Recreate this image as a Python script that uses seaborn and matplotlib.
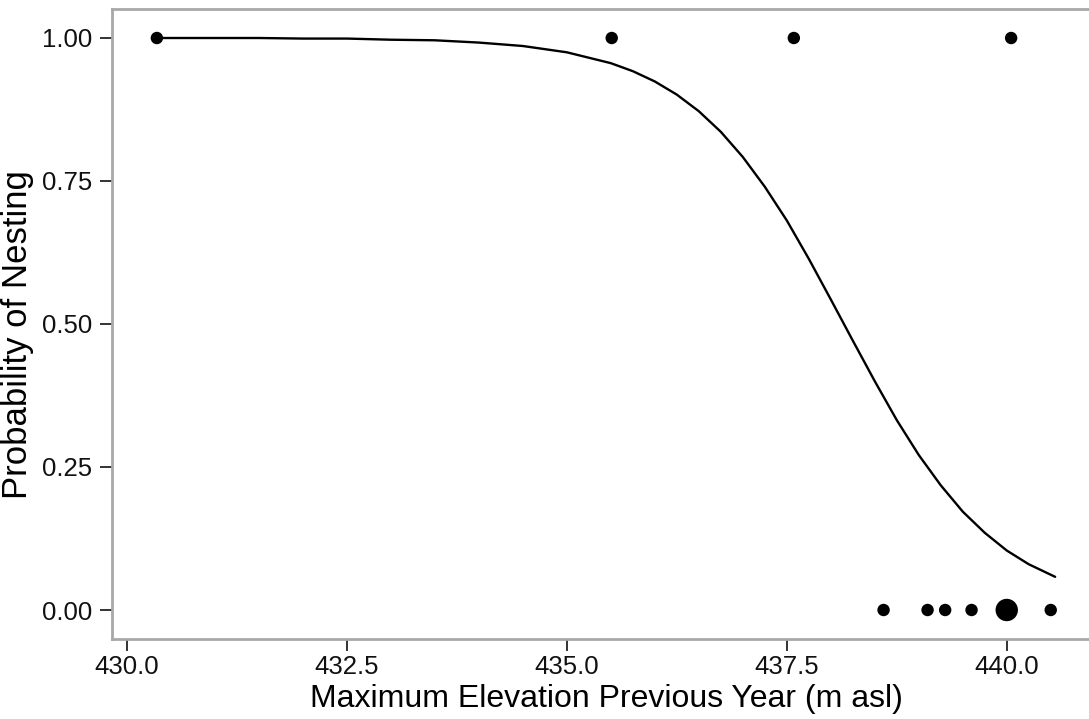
import matplotlib
matplotlib.use("Agg")
import matplotlib.pyplot as plt
import seaborn as sns
import pandas as pd

# Observed nesting outcomes
obs_elev = [430.34, 435.51, 437.58, 440.05, 438.60, 439.10, 439.30, 439.60, 440.00, 440.50]
obs_nest = [1, 1, 1, 1, 0, 0, 0, 0, 0, 0]
obs_count = [1, 1, 1, 1, 1, 1, 1, 1, 2, 1]

# Fitted probability curve
curve_elev = [430.34, 431.0, 431.5, 432.0, 432.5, 433.0, 433.5, 434.0, 434.5, 435.0,
              435.5, 435.75, 436.0, 436.25, 436.5, 436.75, 437.0, 437.25, 437.5, 437.75,
              438.0, 438.25, 438.5, 438.75, 439.0, 439.25, 439.5, 439.75, 440.0, 440.25,
              440.55]
curve_prob = [1.000, 1.000, 1.000, 0.999, 0.999, 0.997, 0.996, 0.992, 0.986, 0.975,
              0.956, 0.942, 0.924, 0.901, 0.872, 0.836, 0.792, 0.740, 0.681, 0.614,
              0.543, 0.471, 0.400, 0.332, 0.271, 0.218, 0.172, 0.135, 0.104, 0.080,
              0.058]

x_ticks = [430.0, 432.5, 435.0, 437.5, 440.0]
x_ticklabels = ["430.0", "432.5", "435.0", "437.5", "440.0"]
y_ticks = [0.00, 0.25, 0.50, 0.75, 1.00]
y_ticklabels = ["0.00", "0.25", "0.50", "0.75", "1.00"]

obs = pd.DataFrame({"elev": obs_elev, "nest": obs_nest, "count": obs_count})
curve = pd.DataFrame({"elev": curve_elev, "prob": curve_prob})

sns.set_style("white")
plt.rcParams["font.family"] = ["Liberation Sans", "DejaVu Sans"]

fig = plt.figure(figsize=(10.89, 7.19), dpi=100)
ax = fig.add_axes([112 / 1089, 1 - 638.6 / 719, 988 / 1089, 629.2 / 719])

sns.lineplot(data=curve, x="elev", y="prob", color="black", linewidth=1.7, ax=ax,
             sort=False)
sns.scatterplot(data=obs, x="elev", y="nest", size="count", sizes={1: 80, 2: 260},
                color="black", edgecolor="black", linewidth=0, legend=False, ax=ax,
                zorder=3)

ax.set_xlim(429.83, 441.06)
ax.set_ylim(-0.05, 1.05)
ax.set_xticks(x_ticks)
ax.set_xticklabels(x_ticklabels)
ax.set_yticks(y_ticks)
ax.set_yticklabels(y_ticklabels)

for s in ax.spines.values():
    s.set_color("#a8a8a8")
    s.set_linewidth(2)

ax.tick_params(axis="both", which="major", length=8.5, width=1.4, color="#333333",
               labelsize=18.5, labelcolor="#111111", direction="out",
               bottom=True, left=True, top=False, right=False)
ax.tick_params(axis="x", pad=3)
ax.tick_params(axis="y", pad=6)

ax.set_xlabel("Maximum Elevation Previous Year (m asl)", fontsize=23, color="black")
ax.set_ylabel("Probability of Nesting", fontsize=25, color="black")
ax.xaxis.set_label_coords(0.5, -0.072)
ax.yaxis.set_label_coords(-0.079, 0.484)

fig.savefig("out.png", dpi=100)
